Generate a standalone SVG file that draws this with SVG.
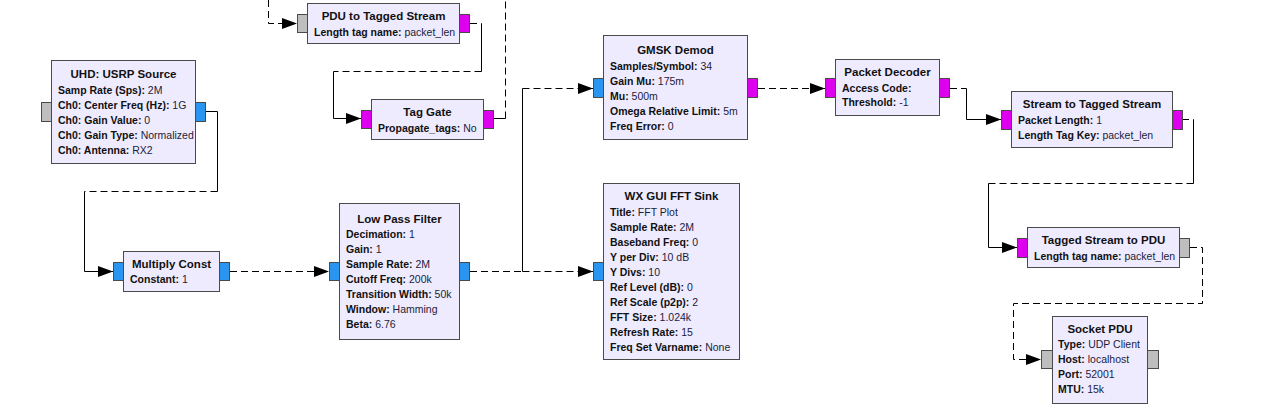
<svg xmlns="http://www.w3.org/2000/svg" width="1263" height="407" viewBox="0 0 1263 407">
<defs>
<marker id="arr" markerWidth="16" markerHeight="13" refX="15" refY="6.5" orient="auto" markerUnits="userSpaceOnUse"><path d="M0,1 L15,6.5 L0,12 z" fill="#000"/></marker>
<style>
.box{fill:#EFEBFF;stroke:#4a4a4a;stroke-width:1}
.pb{fill:#2A95F0;stroke:#4a4a4a;stroke-width:1}
.pm{fill:#DD00EE;stroke:#4a4a4a;stroke-width:1}
.pg{fill:#BEBEBE;stroke:#4a4a4a;stroke-width:1}
.t{font-family:"Liberation Sans",Arial,sans-serif;font-size:11.5px;font-weight:bold;fill:#111;text-anchor:middle}
.p{font-family:"Liberation Sans",Arial,sans-serif;font-size:10.5px;fill:#1c1c3a}
.p tspan.k{font-weight:bold;fill:#111}
.s{fill:none;stroke:#000;stroke-width:1}
.d{fill:none;stroke:#000;stroke-width:1;stroke-dasharray:7,4}
</style>
</defs>
<rect width="1263" height="407" fill="#fff"/>
<g id="connectors">
<path class="s" d="M206,111.5H217.5V191.5"/>
<path class="d" d="M217.5,191.5H84.5"/>
<path class="s" d="M84.5,191.5V271.5H113" marker-end="url(#arr)"/>
<path class="d" d="M230,271.5H329" marker-end="url(#arr)"/>
<path class="d" d="M470,271.5H522.5"/>
<path class="s" d="M522.5,271.5V88.5"/>
<path class="d" d="M522.5,88.5H593" marker-end="url(#arr)"/>
<path class="d" d="M522.5,271.5H593" marker-end="url(#arr)"/>
<path class="d" d="M758,88.5H825" marker-end="url(#arr)"/>
<path class="d" d="M950,88.5H966.5"/>
<path class="s" d="M966.5,88.5V119.5H1001" marker-end="url(#arr)"/>
<path class="d" d="M1182,119.5H1193.5"/>
<path class="s" d="M1193.5,119.5V183.5"/>
<path class="d" d="M1193.5,183.5H988.5"/>
<path class="s" d="M988.5,183.5V247.5H1017" marker-end="url(#arr)"/>
<path class="d" d="M1190,247.5H1202.5V303.5H1013.5V359.5H1041" marker-end="url(#arr)"/>
<path class="s" d="M494,118.5H505.5"/>
<path class="d" d="M505.5,118.5V0"/>
<path class="d" d="M268.5,0V23.5H297" marker-end="url(#arr)"/>
<path class="d" d="M470,23.5H481.5"/>
<path class="s" d="M481.5,23.5V71.5"/>
<path class="d" d="M481.5,71.5H333.5"/>
<path class="s" d="M333.5,71.5V118.5H361" marker-end="url(#arr)"/>
</g>

<g id="usrp_source">
<rect class="pg" x="41.5" y="102.5" width="10" height="19"/>
<rect class="pb" x="195.5" y="102.5" width="10" height="19"/>
<rect class="box" x="51.5" y="60.5" width="144" height="103"/>
<text class="t" x="123.5" y="78">UHD: USRP Source</text>
<text class="p" x="58" y="94"><tspan class="k">Samp Rate (Sps): </tspan>2M</text>
<text class="p" x="58" y="109"><tspan class="k">Ch0: Center Freq (Hz): </tspan>1G</text>
<text class="p" x="58" y="124"><tspan class="k">Ch0: Gain Value: </tspan>0</text>
<text class="p" x="58" y="139"><tspan class="k">Ch0: Gain Type: </tspan>Normalized</text>
<text class="p" x="58" y="154"><tspan class="k">Ch0: Antenna: </tspan>RX2</text>
</g>

<g id="multiply_const">
<rect class="pb" x="113.5" y="262.5" width="10" height="18"/>
<rect class="pb" x="219.5" y="262.5" width="10" height="18"/>
<rect class="box" x="123.5" y="251.5" width="96" height="40"/>
<text class="t" x="171.5" y="268">Multiply Const</text>
<text class="p" x="130" y="283"><tspan class="k">Constant: </tspan>1</text>
</g>

<g id="low_pass_filter">
<rect class="pb" x="329.5" y="262.5" width="10" height="18"/>
<rect class="pb" x="459.5" y="262.5" width="10" height="18"/>
<rect class="box" x="339.5" y="203.5" width="120" height="136"/>
<text class="t" x="399.5" y="223">Low Pass Filter</text>
<text class="p" x="346" y="238"><tspan class="k">Decimation: </tspan>1</text>
<text class="p" x="346" y="253"><tspan class="k">Gain: </tspan>1</text>
<text class="p" x="346" y="268"><tspan class="k">Sample Rate: </tspan>2M</text>
<text class="p" x="346" y="283"><tspan class="k">Cutoff Freq: </tspan>200k</text>
<text class="p" x="346" y="298"><tspan class="k">Transition Width: </tspan>50k</text>
<text class="p" x="346" y="313"><tspan class="k">Window: </tspan>Hamming</text>
<text class="p" x="346" y="328"><tspan class="k">Beta: </tspan>6.76</text>
</g>

<g id="gmsk_demod">
<rect class="pb" x="593.5" y="78.5" width="10" height="19"/>
<rect class="pm" x="747.5" y="78.5" width="10" height="19"/>
<rect class="box" x="603.5" y="35.5" width="144" height="104"/>
<text class="t" x="675.5" y="54">GMSK Demod</text>
<text class="p" x="610" y="70"><tspan class="k">Samples/Symbol: </tspan>34</text>
<text class="p" x="610" y="85"><tspan class="k">Gain Mu: </tspan>175m</text>
<text class="p" x="610" y="100"><tspan class="k">Mu: </tspan>500m</text>
<text class="p" x="610" y="115"><tspan class="k">Omega Relative Limit: </tspan>5m</text>
<text class="p" x="610" y="130"><tspan class="k">Freq Error: </tspan>0</text>
</g>

<g id="wx_gui_fft_sink">
<rect class="pb" x="593.5" y="262.5" width="10" height="18"/>
<rect class="box" x="603.5" y="183.5" width="136" height="176"/>
<text class="t" x="671.5" y="200">WX GUI FFT Sink</text>
<text class="p" x="610" y="216"><tspan class="k">Title: </tspan>FFT Plot</text>
<text class="p" x="610" y="231"><tspan class="k">Sample Rate: </tspan>2M</text>
<text class="p" x="610" y="246"><tspan class="k">Baseband Freq: </tspan>0</text>
<text class="p" x="610" y="261"><tspan class="k">Y per Div: </tspan>10 dB</text>
<text class="p" x="610" y="276"><tspan class="k">Y Divs: </tspan>10</text>
<text class="p" x="610" y="291"><tspan class="k">Ref Level (dB): </tspan>0</text>
<text class="p" x="610" y="306"><tspan class="k">Ref Scale (p2p): </tspan>2</text>
<text class="p" x="610" y="321"><tspan class="k">FFT Size: </tspan>1.024k</text>
<text class="p" x="610" y="336"><tspan class="k">Refresh Rate: </tspan>15</text>
<text class="p" x="610" y="351"><tspan class="k">Freq Set Varname: </tspan>None</text>
</g>

<g id="packet_decoder">
<rect class="pm" x="825.5" y="78.5" width="10" height="19"/>
<rect class="pm" x="939.5" y="78.5" width="10" height="19"/>
<rect class="box" x="835.5" y="59.5" width="104" height="56"/>
<text class="t" x="887.5" y="76">Packet Decoder</text>
<text class="p" x="842" y="92"><tspan class="k">Access Code: </tspan></text>
<text class="p" x="842" y="106"><tspan class="k">Threshold: </tspan>-1</text>
</g>

<g id="stream_to_tagged_stream">
<rect class="pm" x="1001.5" y="110.5" width="10" height="19"/>
<rect class="pm" x="1172.5" y="110.5" width="10" height="19"/>
<rect class="box" x="1011.5" y="91.5" width="161" height="56"/>
<text class="t" x="1092" y="108">Stream to Tagged Stream</text>
<text class="p" x="1018" y="124"><tspan class="k">Packet Length: </tspan>1</text>
<text class="p" x="1018" y="139"><tspan class="k">Length Tag Key: </tspan>packet_len</text>
</g>

<g id="tagged_stream_to_pdu">
<rect class="pm" x="1017.5" y="238.5" width="10" height="19"/>
<rect class="pg" x="1179.5" y="238.5" width="10" height="19"/>
<rect class="box" x="1027.5" y="227.5" width="152" height="40"/>
<text class="t" x="1103.5" y="244">Tagged Stream to PDU</text>
<text class="p" x="1034" y="260"><tspan class="k">Length tag name: </tspan>packet_len</text>
</g>

<g id="socket_pdu">
<rect class="pg" x="1041.5" y="350.5" width="11" height="18"/>
<rect class="pg" x="1147.5" y="350.5" width="11" height="18"/>
<rect class="box" x="1052.5" y="316.5" width="95" height="87"/>
<text class="t" x="1100" y="333">Socket PDU</text>
<text class="p" x="1058" y="348"><tspan class="k">Type: </tspan>UDP Client</text>
<text class="p" x="1058" y="363"><tspan class="k">Host: </tspan>localhost</text>
<text class="p" x="1058" y="378"><tspan class="k">Port: </tspan>52001</text>
<text class="p" x="1058" y="393"><tspan class="k">MTU: </tspan>15k</text>
</g>

<g id="pdu_to_tagged_stream">
<rect class="pg" x="297.5" y="14.5" width="10" height="18"/>
<rect class="pm" x="459.5" y="14.5" width="10" height="18"/>
<rect class="box" x="307.5" y="3.5" width="152" height="40"/>
<text class="t" x="383.5" y="20">PDU to Tagged Stream</text>
<text class="p" x="314" y="36"><tspan class="k">Length tag name: </tspan>packet_len</text>
</g>

<g id="tag_gate">
<rect class="pm" x="361.5" y="110.5" width="10" height="18"/>
<rect class="pm" x="483.5" y="110.5" width="10" height="18"/>
<rect class="box" x="371.5" y="99.5" width="112" height="40"/>
<text class="t" x="427.5" y="116">Tag Gate</text>
<text class="p" x="378" y="132"><tspan class="k">Propagate_tags: </tspan>No</text>
</g>
</svg>
